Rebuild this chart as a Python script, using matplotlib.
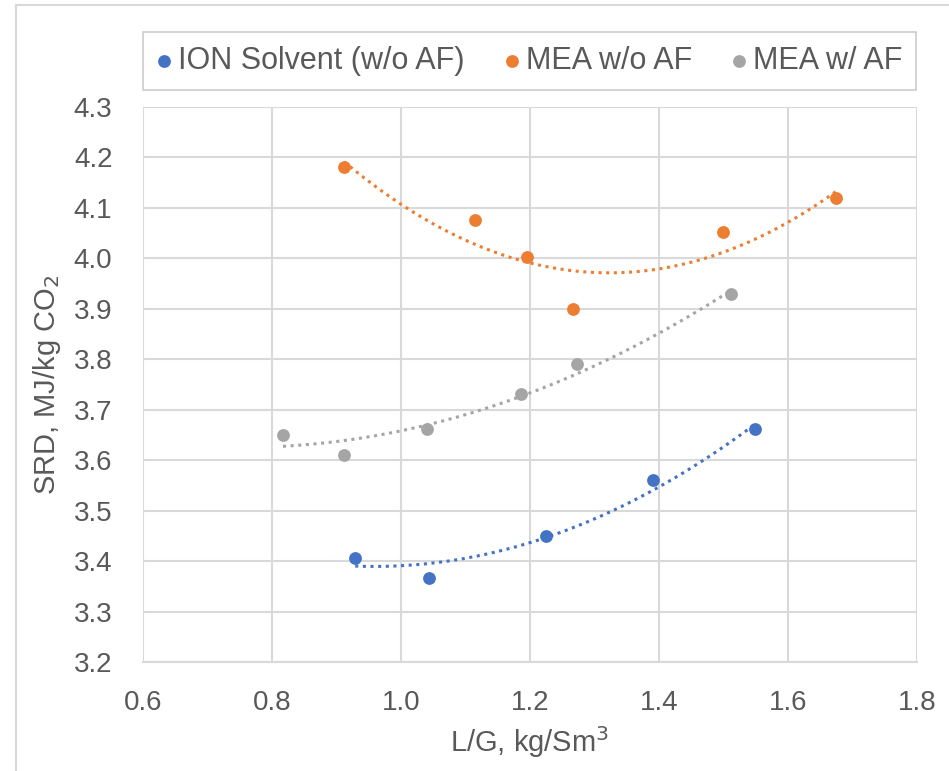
import numpy as np
import matplotlib.pyplot as plt
from matplotlib.lines import Line2D

# data
ion_x = [0.929, 1.043, 1.225, 1.391, 1.549]
ion_y = [3.407, 3.367, 3.449, 3.560, 3.661]

mea_x = [0.912, 1.115, 1.195, 1.267, 1.499, 1.674]
mea_y = [4.181, 4.076, 4.002, 3.900, 4.052, 4.120]

mea_af_x = [0.817, 0.912, 1.040, 1.186, 1.273, 1.512]
mea_af_y = [3.650, 3.610, 3.661, 3.731, 3.790, 3.929]

series = [
    ("ION Solvent (w/o AF)", ion_x, ion_y, "#4472C4"),
    ("MEA w/o AF", mea_x, mea_y, "#ED7D31"),
    ("MEA w/ AF", mea_af_x, mea_af_y, "#A5A5A5"),
]

plt.rcParams['font.family'] = ['Liberation Sans', 'DejaVu Sans']
text_color = "#595959"

fig = plt.figure(figsize=(9.49, 7.71), dpi=100)
ax = fig.add_axes([0.1507, 0.1414, 0.8156, 0.7198])

for name, x, y, color in series:
    ax.scatter(x, y, s=85, color=color, label=name, zorder=3, linewidths=0)
    # 2nd order polynomial trendline, like Excel
    coef = np.polyfit(x, y, 2)
    xs = np.linspace(min(x), max(x), 200)
    ax.plot(xs, np.polyval(coef, xs), color=color, linestyle=(0, (1, 1.5)),
            linewidth=2.2, zorder=2)

ax.set_xlim(0.6, 1.8)
ax.set_ylim(3.2, 4.3)
ax.set_xticks(np.arange(0.6, 1.81, 0.2))
ax.set_yticks(np.arange(3.2, 4.31, 0.1))
ax.xaxis.set_major_formatter(plt.FormatStrFormatter('%.1f'))
ax.yaxis.set_major_formatter(plt.FormatStrFormatter('%.1f'))
ax.grid(True, color="#D9D9D9", linewidth=1.5)
ax.set_axisbelow(True)
for side in ['top', 'right', 'left']:
    ax.spines[side].set_visible(False)
ax.spines['bottom'].set_color("#D9D9D9")
ax.spines['bottom'].set_linewidth(1.5)
ax.tick_params(axis='y', length=0, labelsize=20, labelcolor=text_color, pad=22)
ax.tick_params(axis='x', length=0, labelsize=20, labelcolor=text_color, pad=20)

ax.set_xlabel("L/G, kg/Sm$^3$", fontsize=21, color=text_color, labelpad=6)
ax.set_ylabel("SRD, MJ/kg CO$_2$", fontsize=21, color=text_color, labelpad=8)

leg = fig.legend(loc='center', bbox_to_anchor=(0.5580, 0.9209), ncol=3,
                 fontsize=22, frameon=True, fancybox=False, handletextpad=0.2,
                 handlelength=0.5, columnspacing=1.3, markerscale=1.0,
                 borderpad=0.45)
leg.get_frame().set_edgecolor("#BFBFBF")
leg.get_frame().set_linewidth(1.2)
for t in leg.get_texts():
    t.set_color(text_color)

# outer chart border (only left and top edges fall inside the image)
fig.add_artist(Line2D([0.0169, 0.0169], [0.0, 0.9935], transform=fig.transFigure,
                      color="#D9D9D9", linewidth=1.5))
fig.add_artist(Line2D([0.0169, 1.0], [0.9935, 0.9935], transform=fig.transFigure,
                      color="#D9D9D9", linewidth=1.5))

plt.savefig("out.png", dpi=100)
